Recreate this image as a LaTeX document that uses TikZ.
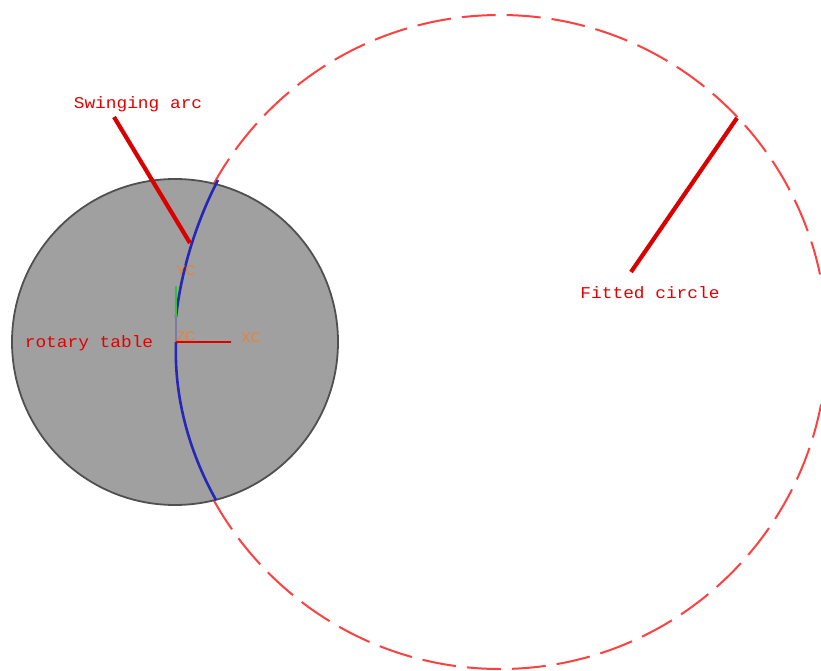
\documentclass[tikz,border=0pt]{standalone}
\usepackage{fontspec}
\newfontfamily\redfont[FakeStretch=1.08]{Liberation Mono}
\setsansfont{Liberation Sans}
\usepackage{xcolor}
\usetikzlibrary{positioning,calc}
\definecolor{tablegray}{HTML}{A0A0A0}
\definecolor{rimgray}{HTML}{505050}
\definecolor{arcblue}{HTML}{2626B8}
\definecolor{wcsorange}{HTML}{E88238}
\tikzset{
  tabledisc/.style={circle, draw=rimgray, fill=tablegray, line width=1.8pt, minimum size=326pt, inner sep=0pt, outer sep=0pt},
  fitdash/.style={circle, draw=red!75!white, line width=2pt, minimum size=654pt, inner sep=0pt, outer sep=0pt, dash pattern=on 34pt off 11pt, dash phase=22pt},
  redlabel/.style={font=\redfont\fontsize{16.5}{16.5}\selectfont, text=red!90!black, inner sep=0pt},
  wcslabel/.style={font=\sffamily\fontsize{14}{14}\selectfont, text=wcsorange, inner sep=0pt},
  leader/.style={red!85!black, line width=4.2pt},
  swingarc/.style={arcblue, line width=2.6pt, line join=round},
}
\begin{document}
\begin{tikzpicture}[x=1pt,y=-1pt]
  \path[use as bounding box, clip] (0,0) rectangle (821,671);

  % Fitted circle, with the table over it
  \node[fitdash] (fitted) at (500,342) {};
  \node[tabledisc] (table) at (175,342) {};

  % Swinging arc
  \coordinate (arctop) at (218,180);
  \coordinate (arcmid) at (190,243);
  \coordinate (greentop) at (176,286);
  \coordinate (greenend) at (176,317);
  \coordinate (origin) at (176,342);
  \coordinate (arcend) at (216,500);
  \draw[swingarc] (arctop) .. controls (205,205) and (183,255) .. (greenend);
  \draw[swingarc] (origin) .. controls (174,395) and (188,450) .. (arcend);
  \draw[arcblue!30!tablegray, line width=1.8pt] (greenend) -- (origin);
  \draw[green!70!black!80!white, line width=2.5pt] (greentop) -- (greenend);

  % Work axes
  \coordinate (xcend) at (231,342);
  \draw[red!85!black, line width=1.2pt] (origin) -- (xcend);
  \node[wcslabel] (yc) at (186,271) {YC};
  \node[wcslabel] (zc) at (186,337) {ZC};
  \node[wcslabel] (xc) at (251,338) {XC};

  % Labels and their leaders
  \node[redlabel] (swinglabel) at (138,104) {Swinging arc};
  \node[redlabel] (fitlabel) at (650,293) {Fitted circle};
  \node[redlabel] (tablelabel) at (89,343) {rotary table};
  \coordinate (swingfoot) at (114,117);
  \coordinate (fitfoot) at (631,272);
  \coordinate (fittip) at (737,118);
  \draw[leader] (swingfoot) -- (arcmid);
  \draw[leader] (fitfoot) -- (fittip);
\end{tikzpicture}
\end{document}
